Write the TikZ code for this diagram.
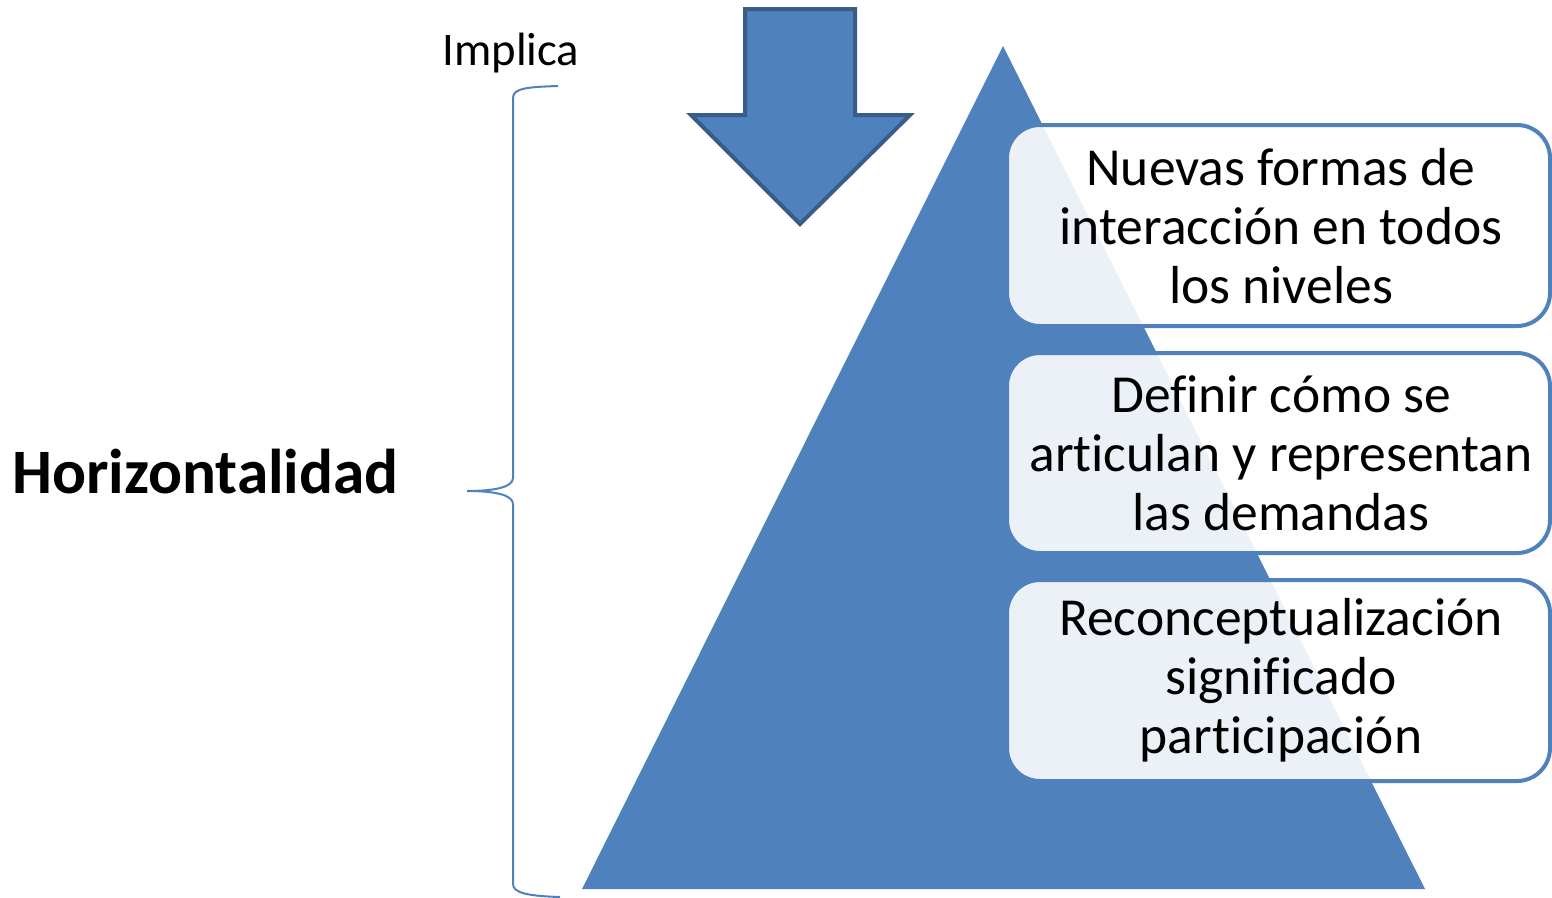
\documentclass[tikz,border=0pt]{standalone}
\usepackage{fontspec}
\setmainfont{Carlito}[Ligatures={NoCommon}]
\definecolor{tri}{HTML}{4F81BD}
\definecolor{arrowedge}{HTML}{385D8A}
\begin{document}
\begin{tikzpicture}[x=1pt,y=-1pt,
  boxstyle/.style={draw=tri, line width=4pt, fill=white, fill opacity=0.89, rounded corners=33pt},
  boxtext/.style={align=center, font=\fontsize{53.5}{59}\selectfont, inner sep=0pt, text opacity=1},
  bracestyle/.style={draw=tri, line width=2pt}]
\useasboundingbox (0,0) rectangle (1552,897);
% triangle
\fill[tri] (1003,46) -- (1425,889) -- (582,889) -- cycle;
% down arrow
\draw[fill=tri, draw=arrowedge, line width=4pt, line join=miter]
  (745,9) -- (855,9) -- (855,115) -- (910,115) -- (800,224) -- (691,115) -- (745,115) -- cycle;
% boxes
\draw[boxstyle] (1007,125) rectangle (1550,326);
\draw[boxstyle] (1007,353) rectangle (1550,553);
\draw[boxstyle] (1007,580) rectangle (1550,781);
\node[boxtext] (t1) at (1281,226) {Nuevas formas de\\interacción en todos\\los niveles};
\node[boxtext] (t2) at (1281,453) {Definir cómo se\\articulan y representan\\las demandas};
\node[boxtext] (t3) at (1281,680) {Reconceptualización\\significado\\participación};
% brace
\draw[bracestyle] (558,86) .. controls (528,87) and (513,88) .. (513,98) -- (513,478)
  .. controls (513,487) and (495,491) .. (467,491);
\draw[bracestyle] (467,491) .. controls (495,491) and (513,495) .. (513,504) -- (513,884)
  .. controls (513,893) and (528,896) .. (560,897);
% labels
\node[anchor=base west, inner sep=0pt, font=\fontsize{63.3}{70}\selectfont\bfseries] (horiz) at (12,493) {Horizontalidad};
\node[anchor=base, inner sep=0pt, font=\fontsize{46.7}{52}\selectfont] (impl) at (511,65) {Implica};
\end{tikzpicture}
\end{document}
